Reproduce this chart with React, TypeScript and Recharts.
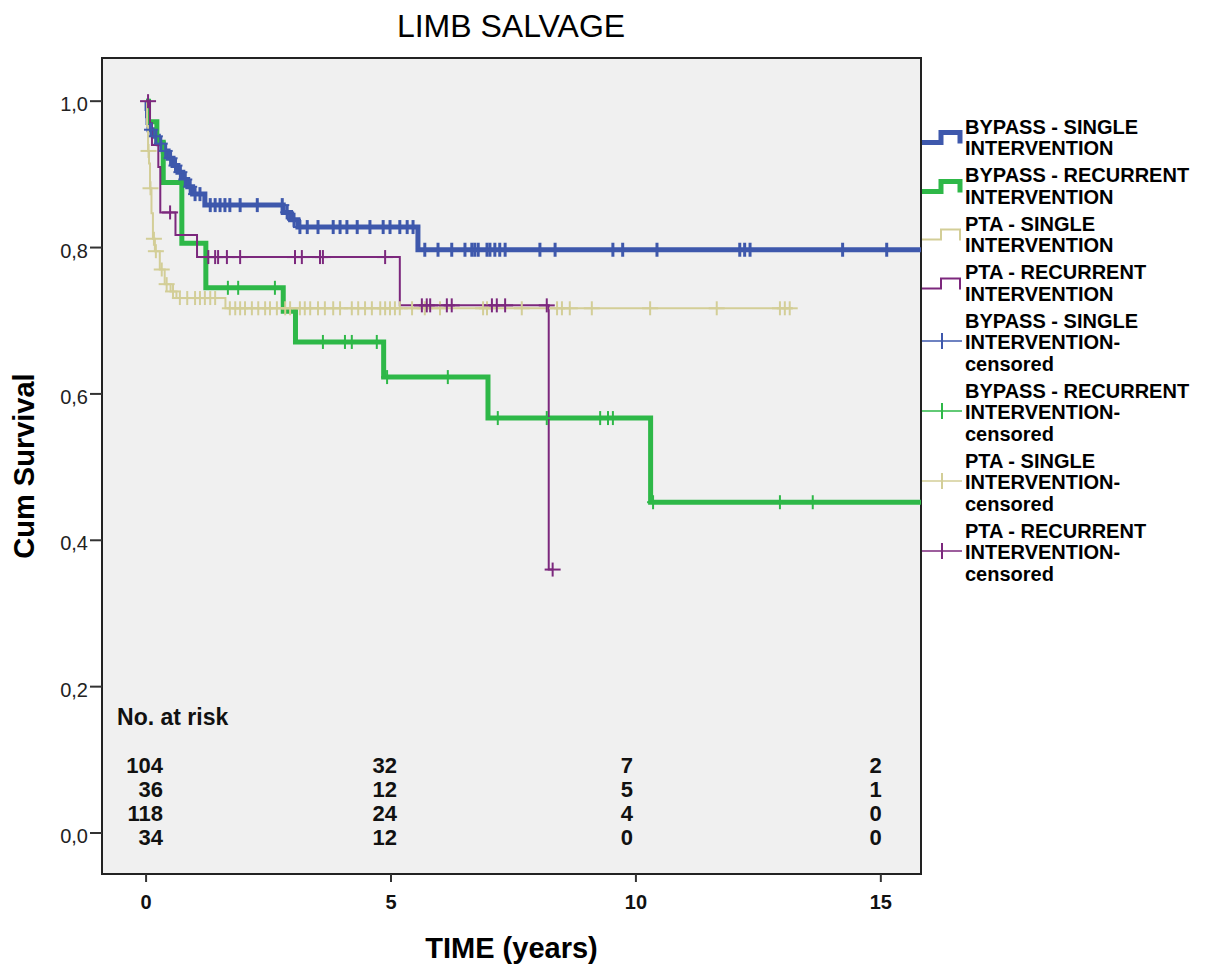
import { ComposedChart, Line, Scatter, XAxis, YAxis, ReferenceArea } from 'recharts'

// Kaplan-Meier steps (time in years, cumulative survival)
const bypassSingleTimes = [0, 0.02, 0.03, 0.04, 0.06, 0.15, 0.25, 0.35, 0.45, 0.55, 0.65, 0.75, 0.85, 0.95, 1.2, 2.8, 2.95, 3.1, 5.55, 15.82]
const bypassSingleSurv = [1, 0.99, 0.98, 0.971, 0.961, 0.952, 0.942, 0.932, 0.922, 0.912, 0.903, 0.893, 0.883, 0.873, 0.858, 0.848, 0.838, 0.828, 0.797, 0.797]
const bypassSingleCensored = [
    0.1, 0.2, 0.3, 0.4, 0.5, 0.6, 0.7, 0.8, 0.9, 1.0, 1.1, 1.31, 1.41, 1.51, 1.61, 1.71, 1.92, 2.27, 2.78, 2.88,
    3.02, 3.14, 3.29, 3.51, 3.82, 3.96, 4.1, 4.31, 4.57, 4.84, 4.98, 5.18, 5.33, 5.45, 5.69, 5.96, 6.24, 6.51,
    6.65, 6.71, 6.78, 6.96, 7.02, 7.12, 7.22, 7.33, 8.04, 8.35, 9.53, 9.73, 10.43, 12.12, 12.22, 12.33, 14.22, 15.12
]

const bypassRecurrentTimes = [0, 0.05, 0.22, 0.35, 0.73, 1.22, 2.8, 3.05, 4.85, 6.98, 10.3, 15.82]
const bypassRecurrentSurv = [1, 0.972, 0.944, 0.889, 0.806, 0.745, 0.713, 0.671, 0.623, 0.567, 0.452, 0.452]
const bypassRecurrentCensored = [1.67, 1.88, 2.63, 3.61, 4.06, 4.2, 4.71, 4.92, 6.16, 7.18, 8.18, 9.27, 9.43, 9.53, 10.35, 12.94, 13.61]

const ptaSingleTimes = [0, 0.02, 0.04, 0.06, 0.08, 0.11, 0.14, 0.18, 0.28, 0.38, 0.5, 0.62, 1.62, 13.2]
const ptaSingleSurv = [1, 0.966, 0.932, 0.915, 0.881, 0.847, 0.812, 0.795, 0.77, 0.75, 0.74, 0.731, 0.717, 0.717]
const ptaSingleCensored = [
    0.05, 0.09, 0.16, 0.2, 0.32, 0.42, 0.55, 0.69, 0.84, 1.0, 1.1, 1.2, 1.31, 1.41, 1.71, 1.82, 1.92, 2.02, 2.16,
    2.29, 2.43, 2.53, 2.67, 2.84, 2.94, 3.14, 3.24, 3.35, 3.51, 3.65, 3.82, 3.96, 4.2, 4.33, 4.47, 4.61, 4.78, 4.88,
    4.98, 5.08, 5.18, 5.43, 5.69, 6.0, 6.88, 6.96, 7.67, 8.39, 8.49, 8.65, 9.1, 10.29, 11.65, 12.94, 13.04, 13.14
]

const ptaRecurrentTimes = [0, 0.08, 0.12, 0.25, 0.29, 0.6, 1.04, 5.18, 8.22, 8.3]
const ptaRecurrentSurv = [1, 0.97, 0.94, 0.91, 0.848, 0.817, 0.787, 0.721, 0.36, 0.36]
const ptaRecurrentCensored = [0.04, 0.49, 1.27, 1.41, 1.47, 1.65, 1.92, 3.04, 3.18, 3.55, 3.61, 4.88, 5.63, 5.73, 5.8, 6.14, 6.24, 7.06, 7.16, 7.33, 8.18, 8.3]

// numbers at risk table
const riskTimes = [0, 5, 10, 15]
const riskBypassSingle = [104, 32, 7, 2]
const riskBypassRecurrent = [36, 12, 5, 1]
const riskPtaSingle = [118, 24, 4, 0]
const riskPtaRecurrent = [34, 12, 0, 0]

const groupNames = ['BYPASS - SINGLE\nINTERVENTION', 'BYPASS - RECURRENT\nINTERVENTION', 'PTA - SINGLE\nINTERVENTION', 'PTA - RECURRENT\nINTERVENTION']

const xTicks = [0, 5, 10, 15]
const yTicks = [0, 0.2, 0.4, 0.6, 0.8, 1.0]

const X_MIN = -0.9
const X_MAX = 15.82
const Y_MIN = -0.056
const Y_MAX = 1.059

const FONT = '"Liberation Sans", Arial, Helvetica, sans-serif'

type Pt = { t: number; s: number }

function steps(times: number[], surv: number[]): Pt[] {
    return times.map((t, i) => ({ t, s: surv[i] }))
}

// censored marks sit on the curve at their time
function censorPoints(times: number[], surv: number[], cens: number[]): Pt[] {
    return cens.map(c => {
        let s = surv[0]
        for (let i = 0; i < times.length; i++) if (times[i] <= c) s = surv[i]
        return { t: c, s }
    })
}

const groups = [
    { name: groupNames[0], color: '#3e58ac', width: 5, mark: 3, arm: 7, times: bypassSingleTimes, surv: bypassSingleSurv, cens: bypassSingleCensored },
    { name: groupNames[1], color: '#2eb848', width: 5, mark: 2, arm: 6, times: bypassRecurrentTimes, surv: bypassRecurrentSurv, cens: bypassRecurrentCensored },
    { name: groupNames[2], color: '#d3ce97', width: 2, mark: 2, arm: 8, times: ptaSingleTimes, surv: ptaSingleSurv, cens: ptaSingleCensored },
    { name: groupNames[3], color: '#7c287d', width: 2, mark: 2, arm: 8, times: ptaRecurrentTimes, surv: ptaRecurrentSurv, cens: ptaRecurrentCensored },
]

const riskRows = [riskBypassSingle, riskBypassRecurrent, riskPtaSingle, riskPtaRecurrent]
const riskPoints = riskRows.flatMap((row, r) => row.map((n, c) => ({ t: riskTimes[c], s: 0, n, row: r, col: c })))

// pixel nudges for the risk table text
const rowDy = [-60, -36, -12, 12]
const colDx = [17, 6, -3, 1]

const censorMark = (color: string, w: number, arm: number) => (props: any) => {
    const { cx, cy } = props
    return (
        <g>
            <line x1={cx} x2={cx} y1={cy - 7} y2={cy + 7} stroke={color} strokeWidth={w} />
            <line x1={cx - arm} x2={cx + arm} y1={cy} y2={cy} stroke={color} strokeWidth={2} />
        </g>
    )
}

const riskText = (props: any) => {
    const { cx, cy, payload } = props
    return (
        <text x={cx + colDx[payload.col]} y={cy + rowDy[payload.row]} textAnchor="end" fontSize={22} fontWeight="bold" fill="#111">
            {payload.n}
        </text>
    )
}

const riskHeader = (props: any) => (
    <text x={props.cx - 29} y={props.cy - 108} fontSize={23} fontWeight="bold" fill="#111">
        No. at risk
    </text>
)

function LegendIcon({ color, width, censored }: { color: string; width: number; censored: boolean }) {
    return (
        <svg width={43} height={22} style={{ display: 'block', flexShrink: 0 }}>
            {censored ? (
                <>
                    <line x1={0} x2={40} y1={9} y2={9} stroke={color} strokeWidth={1.5} />
                    <line x1={20} x2={20} y1={1} y2={17} stroke={color} strokeWidth={2} />
                </>
            ) : (
                <path d="M0,15.5 H19 V5.5 H38 V16.5" fill="none" stroke={color} strokeWidth={width} />
            )}
        </svg>
    )
}

export default function App() {
    const legendItems = [
        ...groups.map(g => ({ label: g.name, color: g.color, width: g.width, censored: false })),
        ...groups.map(g => ({ label: g.name + '-\ncensored', color: g.color, width: g.width, censored: true })),
    ]

    return (
        <div style={{ position: 'absolute', left: 0, top: 0, width: 1206, height: 967, background: '#fff', fontFamily: FONT }}>
            <div style={{ position: 'absolute', left: 0, top: 10, width: 1022, textAlign: 'center', fontSize: 32, lineHeight: '32px', color: '#000' }}>
                LIMB SALVAGE
            </div>

            <ComposedChart width={1206} height={967} margin={{ top: 58, right: 285, bottom: 0, left: 0 }}>
                <ReferenceArea x1={X_MIN} x2={X_MAX} y1={Y_MIN} y2={Y_MAX} fill="#f0f0f0" fillOpacity={1} stroke="#222" strokeWidth={2} />
                <XAxis
                    type="number"
                    dataKey="t"
                    domain={[X_MIN, X_MAX]}
                    ticks={xTicks}
                    allowDataOverflow
                    height={93}
                    tickSize={8}
                    tickMargin={13}
                    tick={{ fontSize: 20, fontWeight: 'bold', fill: '#111' }}
                    axisLine={{ stroke: '#222', strokeWidth: 2 }}
                    tickLine={{ stroke: '#333', strokeWidth: 2 }}
                    label={{ value: 'TIME (years)', position: 'insideBottom', offset: 9, style: { fontSize: 29, fontWeight: 'bold', fill: '#000' } }}
                />
                <YAxis
                    type="number"
                    dataKey="s"
                    domain={[Y_MIN, Y_MAX]}
                    ticks={yTicks}
                    allowDataOverflow
                    width={102}
                    tickSize={12}
                    tickMargin={2}
                    tickFormatter={(v: number) => v.toFixed(1).replace('.', ',')}
                    tick={{ fontSize: 20, fill: '#222', dy: 3 }}
                    axisLine={{ stroke: '#222', strokeWidth: 2 }}
                    tickLine={{ stroke: '#333', strokeWidth: 2 }}
                    label={{ value: 'Cum Survival', angle: -90, position: 'insideLeft', offset: 24, style: { fontSize: 29, fontWeight: 'bold', fill: '#000', textAnchor: 'middle' } }}
                />

                {groups.map(g => (
                    <Line
                        key={g.name}
                        data={steps(g.times, g.surv)}
                        dataKey="s"
                        type="stepAfter"
                        stroke={g.color}
                        strokeWidth={g.width}
                        dot={false}
                        activeDot={false}
                        isAnimationActive={false}
                    />
                ))}
                {groups.map(g => (
                    <Scatter
                        key={g.name + '-c'}
                        data={censorPoints(g.times, g.surv, g.cens)}
                        dataKey="s"
                        shape={censorMark(g.color, g.mark, g.arm)}
                        isAnimationActive={false}
                    />
                ))}

                <Scatter data={[{ t: 0, s: 0 }]} dataKey="s" shape={riskHeader} isAnimationActive={false} />
                <Scatter data={riskPoints} dataKey="s" shape={riskText} isAnimationActive={false} />
            </ComposedChart>

            <div style={{ position: 'absolute', left: 922, top: 116.6, display: 'flex', flexDirection: 'column', gap: 5.5 }}>
                {legendItems.map(item => (
                    <div key={item.label} style={{ display: 'flex', alignItems: 'center' }}>
                        <LegendIcon color={item.color} width={item.width} censored={item.censored} />
                        <div style={{ fontSize: 20, fontWeight: 'bold', lineHeight: '21.5px', whiteSpace: 'pre-line', color: '#000' }}>
                            {item.label}
                        </div>
                    </div>
                ))}
            </div>
        </div>
    )
}
